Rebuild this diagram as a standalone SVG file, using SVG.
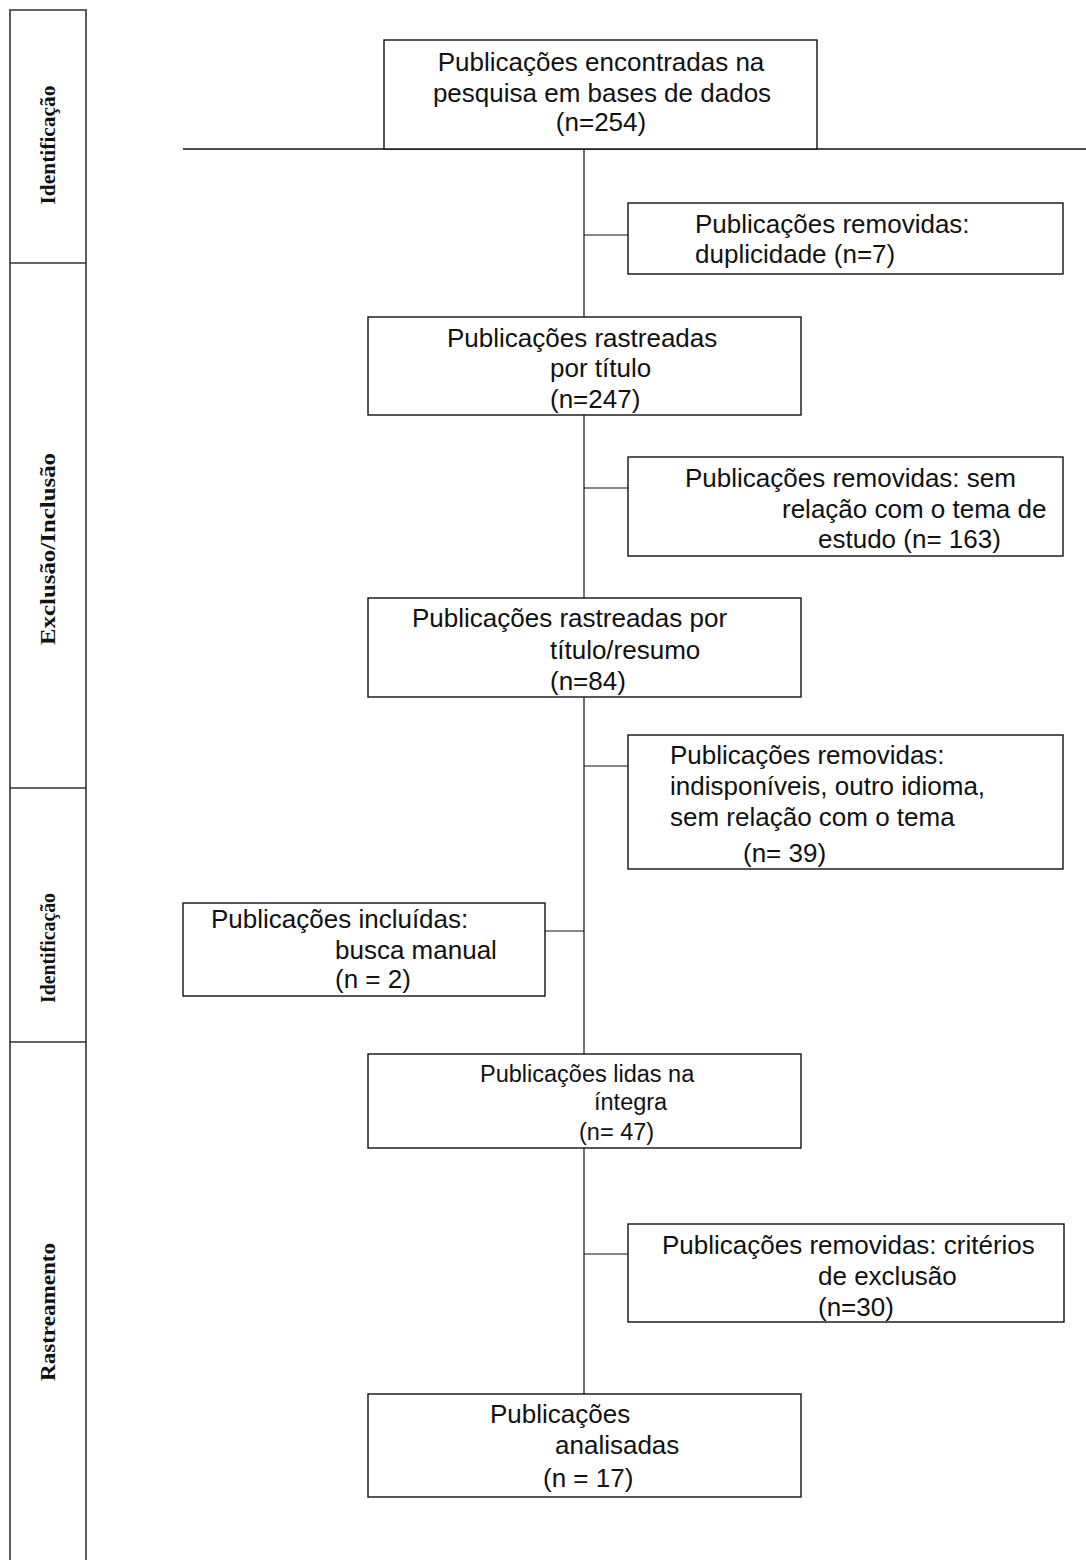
<svg xmlns="http://www.w3.org/2000/svg" width="1086" height="1560" viewBox="0 0 1086 1560">
<style>
.box{fill:#fff;stroke:#111;stroke-width:1.4}
.t{font-family:"Liberation Sans",Arial,sans-serif;font-size:26px;fill:#111}
.ts{font-family:"Liberation Sans",Arial,sans-serif;font-size:23.5px;fill:#111}
.side{font-family:"Liberation Serif","Times New Roman",serif;font-size:22px;font-weight:bold;fill:#111}
.sl{fill:none;stroke:#333;stroke-width:1.6}
.c{fill:none;stroke:#111;stroke-width:1.2}
</style>
<rect width="1086" height="1560" fill="#fff"/>
<g id="sidebar">
<path class="sl" d="M10,1560 V10 H86 V1560 M10,263 H86 M10,788 H86 M10,1042 H86"/>
<text class="side" text-anchor="middle" transform="translate(55,145) rotate(-90)" textLength="119" lengthAdjust="spacingAndGlyphs">Identificação</text>
<text class="side" text-anchor="middle" transform="translate(55,549) rotate(-90)" textLength="192" lengthAdjust="spacingAndGlyphs">Exclusão/Inclusão</text>
<text class="side" text-anchor="middle" transform="translate(55,948) rotate(-90)" textLength="110" lengthAdjust="spacingAndGlyphs">Identificação</text>
<text class="side" text-anchor="middle" transform="translate(55,1312) rotate(-90)" textLength="138" lengthAdjust="spacingAndGlyphs">Rastreamento</text>
</g>
<g id="connectors">
<path class="c" d="M183,149 H1086" style="stroke-width:1.6"/>
<path class="c" d="M584,149 V1394"/>
<path class="c" d="M584,235 H628 M584,488 H628 M584,766 H628 M545,931 H584 M584,1254 H628"/>
</g>
<g id="n1">
<rect class="box" x="384" y="40" width="433" height="109"/>
<text class="t" x="601" y="71" text-anchor="middle">Publicações encontradas na</text>
<text class="t" x="602" y="101.5" text-anchor="middle">pesquisa em bases de dados</text>
<text class="t" x="601" y="131" text-anchor="middle">(n=254)</text>
</g>
<g id="n2">
<rect class="box" x="628" y="203" width="435" height="71"/>
<text class="t" x="695" y="233">Publicações removidas:</text>
<text class="t" x="695" y="263">duplicidade (n=7)</text>
</g>
<g id="n3">
<rect class="box" x="368" y="317" width="433" height="98"/>
<text class="t" x="447" y="347">Publicações rastreadas</text>
<text class="t" x="550" y="377">por título</text>
<text class="t" x="550" y="408">(n=247)</text>
</g>
<g id="n4">
<rect class="box" x="628" y="457" width="435" height="99"/>
<text class="t" x="685" y="487">Publicações removidas: sem</text>
<text class="t" x="782" y="518">relação com o tema de</text>
<text class="t" x="818" y="548">estudo (n= 163)</text>
</g>
<g id="n5">
<rect class="box" x="368" y="598" width="433" height="99"/>
<text class="t" x="412" y="627">Publicações rastreadas por</text>
<text class="t" x="550" y="659">título/resumo</text>
<text class="t" x="550" y="690">(n=84)</text>
</g>
<g id="n6">
<rect class="box" x="628" y="735" width="435" height="134"/>
<text class="t" x="670" y="764">Publicações removidas:</text>
<text class="t" x="670" y="795">indisponíveis, outro idioma,</text>
<text class="t" x="670" y="826">sem relação com o tema</text>
<text class="t" x="743" y="862">(n= 39)</text>
</g>
<g id="n7">
<rect class="box" x="183" y="903" width="362" height="93"/>
<text class="t" x="211" y="928">Publicações incluídas:</text>
<text class="t" x="335" y="959">busca manual</text>
<text class="t" x="335" y="988">(n = 2)</text>
</g>
<g id="n8">
<rect class="box" x="368" y="1054" width="433" height="94"/>
<text class="ts" x="480" y="1082">Publicações lidas na</text>
<text class="ts" x="594" y="1110">íntegra</text>
<text class="ts" x="579" y="1140">(n= 47)</text>
</g>
<g id="n9">
<rect class="box" x="628" y="1224" width="436" height="98"/>
<text class="t" x="662" y="1254">Publicações removidas: critérios</text>
<text class="t" x="818" y="1285">de exclusão</text>
<text class="t" x="818" y="1316">(n=30)</text>
</g>
<g id="n10">
<rect class="box" x="368" y="1394" width="433" height="103"/>
<text class="t" x="490" y="1423">Publicações</text>
<text class="t" x="555" y="1454">analisadas</text>
<text class="t" x="543" y="1487">(n = 17)</text>
</g>
</svg>
